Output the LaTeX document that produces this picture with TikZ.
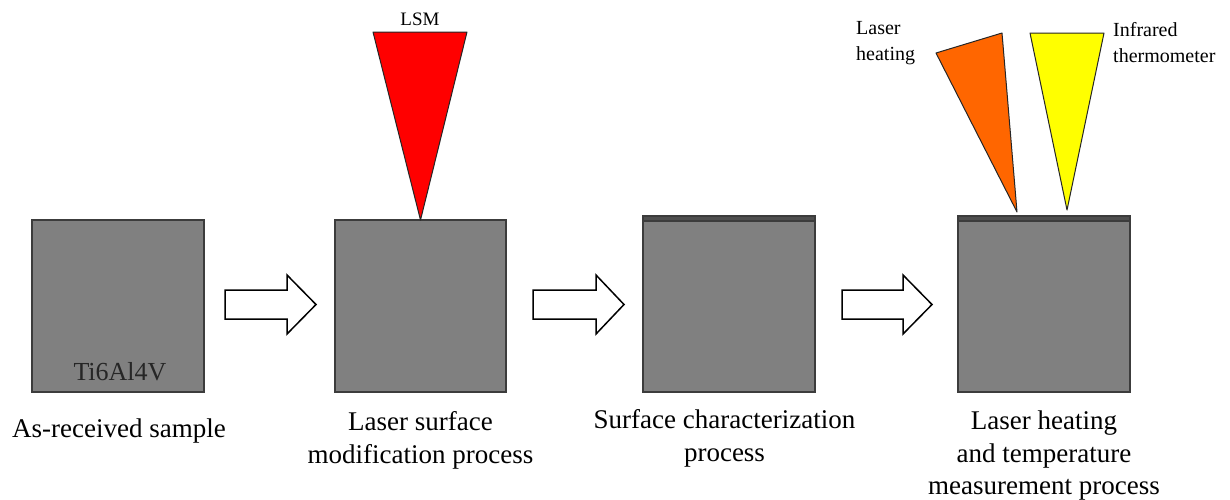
\documentclass[tikz,border=0pt]{standalone}
\usepackage{fontspec}
\setmainfont{LiberationSerif}[Extension=.ttf, UprightFont=*-Regular, BoldFont=*-Bold]
\definecolor{boxfill}{RGB}{128,128,128}
\definecolor{boxline}{RGB}{60,60,60}
\definecolor{bandfill}{RGB}{78,78,78}
\definecolor{laserred}{RGB}{255,0,0}
\definecolor{laserorange}{RGB}{255,102,0}
\definecolor{laseryellow}{RGB}{255,255,0}
\begin{document}
\begin{tikzpicture}[x=1pt,y=-1pt,
  sample/.style={draw=boxline, fill=boxfill, line width=1.3pt, inner sep=0pt, outer sep=0pt},
  band/.style={draw=boxline, fill=bandfill, line width=1.1pt, inner sep=0pt, outer sep=0pt, minimum height=5pt},
  blockarrow/.style={draw=black, fill=white, line width=1.5pt, line join=miter},
  beam/.style={draw=black!85, line width=1pt, line join=round},
  caption/.style={font=\rmfamily\fontsize{27}{32.5}\selectfont, align=center, inner sep=0pt, anchor=north},
  tag/.style={font=\rmfamily\fontsize{20}{25.5}\selectfont, align=left, inner sep=0pt, anchor=north west}
]
\useasboundingbox (0,0) rectangle (1230,499);

% samples
\node[sample, minimum width=172pt, minimum height=172pt] (s1) at (118,306) {};
\node[sample, minimum width=171pt, minimum height=172pt] (s2) at (420.5,306) {};
\node[sample, minimum width=172pt, minimum height=171pt] (s3) at (729,306.5) {};
\node[band, minimum width=172pt] (b3) at (729,218.5) {};
\node[sample, minimum width=172pt, minimum height=171pt] (s4) at (1044,306.5) {};
\node[band, minimum width=172pt] (b4) at (1044,218.5) {};

\node[font=\rmfamily\fontsize{26}{30}\selectfont, text=black!85, anchor=base, inner sep=0pt] (mat) at (120,380) {Ti6Al4V};

% block arrows
\draw[blockarrow] (225,290) -- (287,290) -- (287,275) -- (316,304.5) -- (287,334) -- (287,319) -- (225,319) -- cycle;
\draw[blockarrow] (533,290) -- (596,290) -- (596,275) -- (624,304.5) -- (596,334) -- (596,319) -- (533,319) -- cycle;
\draw[blockarrow] (842,290) -- (903,290) -- (903,275) -- (932,304.5) -- (903,334) -- (903,319) -- (842,319) -- cycle;

% beams
\coordinate (lsmtip) at (s2.north);
\draw[beam, fill=laserred] (373,32) -- (467,32) -- (lsmtip) -- cycle;
\coordinate (heattip) at (1017,212);
\coordinate (irtip) at (1067,210);
\draw[beam, fill=laserorange] (936,53) -- (1002,33) -- (heattip) -- cycle;
\draw[beam, fill=laseryellow] (1030,33) -- (1104,33) -- (irtip) -- cycle;

% beam labels
\node[font=\rmfamily\fontsize{19}{23}\selectfont, anchor=base, inner sep=0pt] (lsm) at (420,25) {LSM};
\node[tag] (lh) at (856,21.3) {Laser\\heating};
\node[tag] (ir) at (1113,22.3) {Infrared\\thermometer};

% captions
\node[caption] (c1) at (119,418.6) {As-received sample};
\node[caption] (c2) at (420.5,411.5) {Laser surface\\modification process};
\node[caption] (c3) at (724.5,409.6) {Surface characterization\\process};
\node[caption] (c4) at (1044,411) {Laser heating\\and temperature\\measurement process};
\end{tikzpicture}
\end{document}
